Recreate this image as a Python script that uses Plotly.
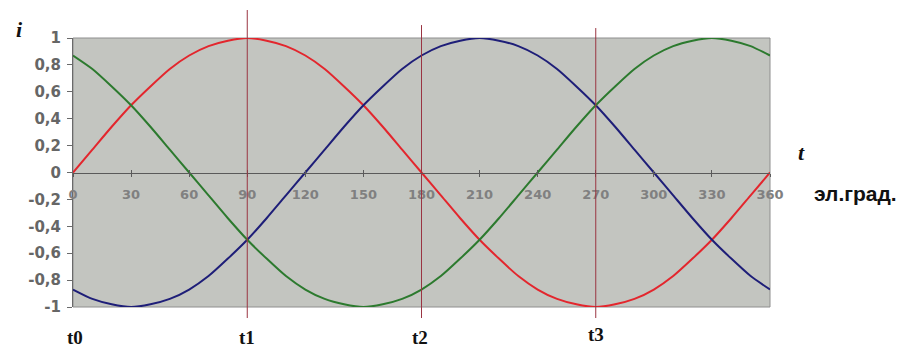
import plotly.graph_objects as go

# electrical angle, degrees
angle = [0, 10, 20, 30, 40, 50, 60, 70, 80, 90, 100, 110, 120, 130, 140, 150, 160, 170, 180,
         190, 200, 210, 220, 230, 240, 250, 260, 270, 280, 290, 300, 310, 320, 330, 340, 350, 360]

# phase currents (per unit)
phase_a = [0.0, 0.17, 0.34, 0.5, 0.64, 0.77, 0.87, 0.94, 0.98, 1.0, 0.98, 0.94, 0.87, 0.77, 0.64, 0.5, 0.34, 0.17, 0.0,
           -0.17, -0.34, -0.5, -0.64, -0.77, -0.87, -0.94, -0.98, -1.0, -0.98, -0.94, -0.87, -0.77, -0.64, -0.5, -0.34, -0.17, 0.0]
phase_b = [-0.87, -0.94, -0.98, -1.0, -0.98, -0.94, -0.87, -0.77, -0.64, -0.5, -0.34, -0.17, 0.0, 0.17, 0.34, 0.5, 0.64, 0.77, 0.87,
           0.94, 0.98, 1.0, 0.98, 0.94, 0.87, 0.77, 0.64, 0.5, 0.34, 0.17, 0.0, -0.17, -0.34, -0.5, -0.64, -0.77, -0.87]
phase_c = [0.87, 0.77, 0.64, 0.5, 0.34, 0.17, 0.0, -0.17, -0.34, -0.5, -0.64, -0.77, -0.87, -0.94, -0.98, -1.0, -0.98, -0.94, -0.87,
           -0.77, -0.64, -0.5, -0.34, -0.17, 0.0, 0.17, 0.34, 0.5, 0.64, 0.77, 0.87, 0.94, 0.98, 1.0, 0.98, 0.94, 0.87]

x_ticks = [0, 30, 60, 90, 120, 150, 180, 210, 240, 270, 300, 330, 360]
y_ticks = [-1, -0.8, -0.6, -0.4, -0.2, 0, 0.2, 0.4, 0.6, 0.8, 1]
y_tick_text = ["-1", "-0,8", "-0,6", "-0,4", "-0,2", "0", "0,2", "0,4", "0,6", "0,8", "1"]

# time instants marked on the chart
marker_angles = [90, 180, 270]
marker_tops = [1.104, 1.048, 1.037]
time_labels = ["t0", "t1", "t2", "t3"]
time_label_x = [1, 90, 179, 270]

fig = go.Figure()
for ys, col in [(phase_a, "#E3262D"), (phase_b, "#1E1E78"), (phase_c, "#2C7A2E")]:
    fig.add_trace(go.Scatter(x=angle, y=ys, mode="lines",
                             line=dict(color=col, width=2, shape="spline", smoothing=0.6),
                             showlegend=False, hoverinfo="skip"))

shapes = [dict(type="rect", xref="paper", yref="paper", x0=0, x1=1, y0=0, y1=1,
               line=dict(color="#8e8e8e", width=1), layer="below")]
for a, top in zip(marker_angles, marker_tops):
    shapes.append(dict(type="line", xref="x", yref="paper", x0=a, x1=a, y0=-0.041, y1=top,
                       line=dict(color="#9A3442", width=1), layer="above"))

annotations = []
for lab, lx in zip(time_labels, time_label_x):
    ypos = -0.112 if lab != "t3" else -0.104
    annotations.append(dict(x=lx, y=ypos, xref="x", yref="paper", text="<b>" + lab + "</b>",
                            showarrow=False,
                            font=dict(family="Liberation Serif", size=19, color="#111"),
                            xanchor="center", yanchor="middle"))
annotations += [
    dict(x=19, y=29, text="<b><i>i</i></b>", showarrow=False,
         font=dict(family="Liberation Serif", size=22, color="#111")),
    dict(x=801, y=152, text="<b><i>t</i></b>", showarrow=False,
         font=dict(family="Liberation Serif", size=22, color="#111")),
    dict(x=855, y=193, text="<b>эл.град.</b>", showarrow=False,
         font=dict(family="Liberation Sans", size=21, color="#111")),
]
# convert pixel-placed labels to paper coordinates
L, R, T, B, W, H = 73, 137, 38, 40, 907, 347
pw, ph = W - L - R, H - T - B
for ann in annotations[len(time_labels):]:
    px, py = ann["x"], ann["y"]
    ann.update(xref="paper", yref="paper", x=(px - L) / pw, y=(H - B - py) / ph,
               xanchor="center", yanchor="middle")

fig.update_layout(
    width=W, height=H,
    margin=dict(l=L, r=R, t=T, b=B),
    paper_bgcolor="white",
    plot_bgcolor="#C3C5C0",
    shapes=shapes,
    annotations=annotations,
    xaxis=dict(range=[0, 360], tickvals=x_ticks, ticktext=[str(v) for v in x_ticks],
               anchor="free", position=0.5, showline=True, linecolor="#5a5a5a", linewidth=1,
               ticks="outside", ticklen=3, tickcolor="#5a5a5a", showgrid=False, zeroline=False,
               ticklabelstandoff=7,
               tickfont=dict(family="DejaVu Sans", size=13, color="#808080", weight="bold")),
    xaxis2=dict(range=[0, 360], overlaying="x", anchor="free", position=0.5, tickvals=x_ticks,
                showticklabels=False, ticks="inside", ticklen=3, tickcolor="#5a5a5a",
                showline=False, showgrid=False, zeroline=False),
    yaxis=dict(range=[-1, 1], tickvals=y_ticks, ticktext=y_tick_text, showline=True,
               linecolor="#6a6a6a", linewidth=1, ticks="outside", ticklen=5, tickcolor="#6a6a6a",
               showgrid=False, zeroline=False, ticklabelstandoff=3,
               tickfont=dict(family="DejaVu Sans", size=15, color="#666666", weight="bold")),
)
fig.add_trace(go.Scatter(x=[0], y=[0], xaxis="x2", mode="markers", marker=dict(opacity=0),
                         showlegend=False, hoverinfo="skip"))

fig.write_html("out.html")
